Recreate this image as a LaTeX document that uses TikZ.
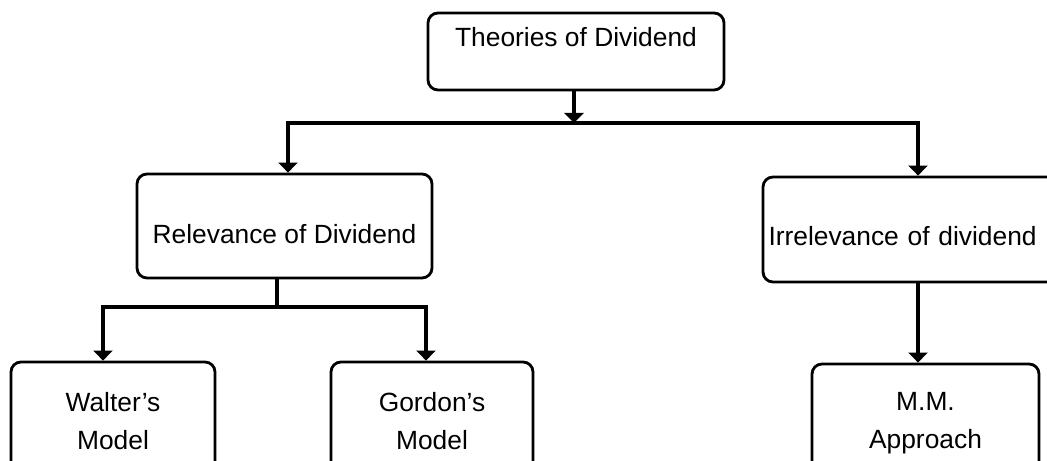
\documentclass[tikz,border=0pt]{standalone}
\usepackage{fontspec}
\setmainfont{Liberation Sans}
\usetikzlibrary{arrows.meta}

\begin{document}
\begin{tikzpicture}[
  theorybox/.style={draw, line width=1.6pt, rounded corners=0.2cm, inner sep=0pt, font=\fontsize{15}{21.6}\selectfont},
  link/.style={line width=2pt},
  linkarrow/.style={line width=2pt, -{Triangle[length=0.2cm, width=0.38cm]}},
  twoarrow/.style={line width=2pt, {Triangle[length=0.2cm, width=0.38cm]}-{Triangle[length=0.2cm, width=0.38cm]}}]
				\clip (0,0) rectangle (20.94,9.22);
				
				\node[theorybox, minimum width=5.92cm, minimum height=1.54cm, text height=0.4cm, text depth=0.6cm] (theories) at (11.52,8.19) {Theories of Dividend};
				
				\node[theorybox, minimum width=5.9cm, minimum height=2.08cm, text height=0.8cm, text depth=0.1cm] (relevance) at (5.69,4.70) {Relevance of Dividend};
				\node[theorybox, minimum width=6.2cm, minimum height=2.1cm, text height=0.75cm, text depth=0.1cm, text width=5.98cm, align=left] (irrelevance) at (18.36,4.63) {Irrelevance of dividend};
				
				\node[theorybox, align=center, minimum width=4.08cm, minimum height=2.36cm] (walter) at (2.26,0.80) {Walter’s\\Model};
				\node[theorybox, align=center, minimum width=4.04cm, minimum height=2.36cm] (gordon) at (8.64,0.80) {Gordon’s\\Model};
				\node[theorybox, align=center, minimum width=4.54cm, minimum height=2.36cm] (mm) at (18.51,0.76) {M.M.\\Approach};
				
				\coordinate (topjoin) at (11.48,6.76);
				\coordinate (leftend) at (5.76,6.76);
				\coordinate (rightend) at (18.36,6.76);
				\coordinate (relstem) at (5.54,3.08);
				\coordinate (lowleft) at (2.06,3.08);
				\coordinate (lowright) at (8.52,3.08);
				
				\draw[linkarrow] (topjoin |- theories.south) -- (topjoin);
				\draw[twoarrow] (leftend |- relevance.north) -- (leftend) -- (rightend) -- (irrelevance.north);
				\draw[link] (relstem |- relevance.south) -- (relstem);
				\draw[twoarrow] (lowleft |- walter.north) -- (lowleft) -- (lowright) -- (lowright |- gordon.north);
				\draw[linkarrow] (irrelevance.south) -- (irrelevance.south |- mm.north);
			\end{tikzpicture}
\end{document}
